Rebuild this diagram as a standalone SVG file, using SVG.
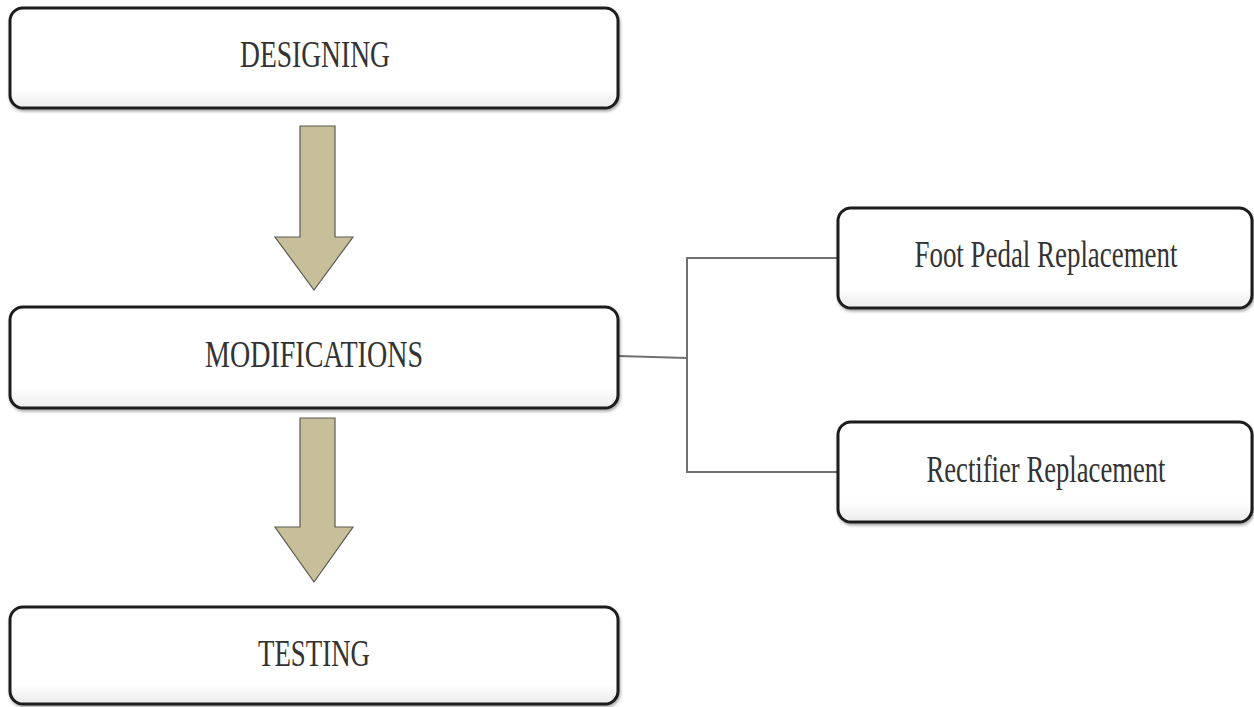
<svg xmlns="http://www.w3.org/2000/svg" width="1254" height="707" viewBox="0 0 1254 707">
<defs>
<linearGradient id="boxg" x1="0" y1="0" x2="0" y2="1">
<stop offset="0" stop-color="#ffffff"/>
<stop offset="0.8" stop-color="#ffffff"/>
<stop offset="1" stop-color="#ebebeb"/>
</linearGradient>
<filter id="sh" x="-5%" y="-10%" width="110%" height="130%">
<feGaussianBlur in="SourceAlpha" stdDeviation="1.5"/>
<feOffset dx="1" dy="2" result="b"/>
<feComponentTransfer><feFuncA type="linear" slope="0.35"/></feComponentTransfer>
<feMerge><feMergeNode/><feMergeNode in="SourceGraphic"/></feMerge>
</filter>
</defs>
<style>
.box{fill:url(#boxg);stroke:#1e1e1e;stroke-width:3;filter:url(#sh)}
.lbl{font-family:"Liberation Serif",serif;font-size:37px;fill:#333;text-anchor:middle}
.arrow{fill:#c6bf9a;stroke:#5a5a50;stroke-width:1.2}
.conn{fill:none;stroke:#707070;stroke-width:2}
</style>
<rect width="1254" height="707" fill="#ffffff"/>
<g id="connectors">
<polyline class="conn" points="618,356 687,358"/>
<polyline class="conn" points="838,258 687,258 687,472 838,472"/>
<polygon id="arrow1" class="arrow" points="300,126 335,126 335,237 353,237 314,290 275,237 300,237"/>
<polygon id="arrow2" class="arrow" points="300,418 335,418 335,527 353,527 314,582 275,527 300,527"/>
</g>
<g id="designing">
<rect class="box" x="10" y="8" width="608" height="100" rx="13"/>
<text class="lbl" x="315" y="67" textLength="150" lengthAdjust="spacingAndGlyphs">DESIGNING</text>
</g>
<g id="modifications">
<rect class="box" x="10" y="307" width="608" height="101" rx="13"/>
<text class="lbl" x="314" y="367" textLength="218" lengthAdjust="spacingAndGlyphs">MODIFICATIONS</text>
</g>
<g id="testing">
<rect class="box" x="10" y="607" width="608" height="97" rx="13"/>
<text class="lbl" x="314" y="666" textLength="112" lengthAdjust="spacingAndGlyphs">TESTING</text>
</g>
<g id="footpedal">
<rect class="box" x="838" y="208" width="414" height="100" rx="13"/>
<text class="lbl" x="1046" y="267" textLength="263" lengthAdjust="spacingAndGlyphs">Foot Pedal Replacement</text>
</g>
<g id="rectifier">
<rect class="box" x="838" y="422" width="414" height="100" rx="13"/>
<text class="lbl" x="1046" y="482" textLength="239" lengthAdjust="spacingAndGlyphs">Rectifier Replacement</text>
</g>
</svg>
